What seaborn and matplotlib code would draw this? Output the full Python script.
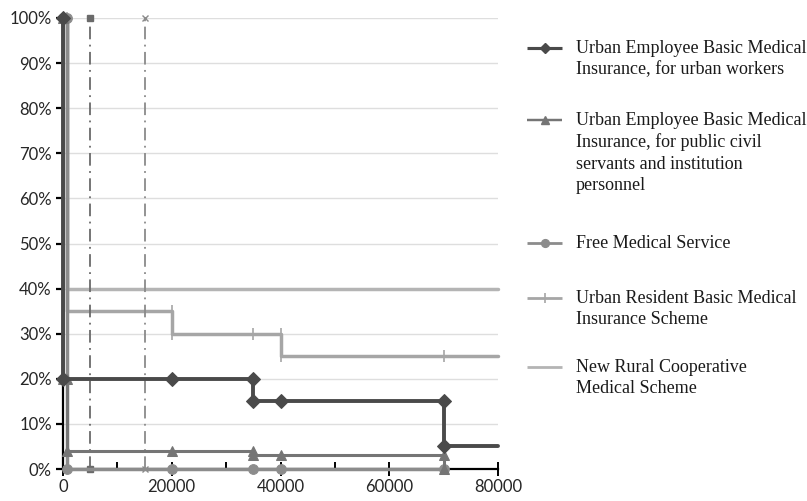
import numpy as np
import pandas as pd
import matplotlib.pyplot as plt
import seaborn as sns
from matplotlib.lines import Line2D
from matplotlib.ticker import MultipleLocator, FuncFormatter

# step points of each scheme (x in yuan, y in % reimbursed)
workers_x = [0, 0, 20000, 35000, 35000, 40000, 70000, 70000, 80000]
workers_y = [100, 20, 20, 20, 15, 15, 15, 5, 5]

civil_x = [0, 0, 800, 800, 20000, 35000, 35000, 40000, 70000, 70000]
civil_y = [100, 20, 20, 4, 4, 4, 3, 3, 3, 0]

free_x = [0, 800, 800, 20000, 35000, 40000, 70000]
free_y = [100, 100, 0, 0, 0, 0, 0]

resident_x = [0, 800, 800, 20000, 20000, 35000, 40000, 40000, 70000, 80000]
resident_y = [100, 100, 35, 35, 30, 30, 30, 25, 25, 25]

rural_x = [0, 800, 800, 80000]
rural_y = [100, 100, 40, 40]

# two threshold markers drawn as dashed verticals
thresh1_x = [5000, 5000]
thresh1_y = [0, 100]
thresh2_x = [15000, 15000]
thresh2_y = [0, 100]

labels = [
    "Urban Employee Basic Medical\nInsurance, for urban workers",
    "Urban Employee Basic Medical\nInsurance, for public civil\nservants and institution\npersonnel",
    "Free Medical Service",
    "Urban Resident Basic Medical\nInsurance Scheme",
    "New Rural Cooperative\nMedical Scheme",
]


def main():
    sns.set_style("white")
    plt.rcParams['font.family'] = ['Lato', 'DejaVu Sans']

    fig = plt.figure(figsize=(8.07, 5.01), dpi=100)
    ax = fig.add_axes([63/807, 32/501, 435/807, 451/501])

    common = dict(ax=ax, sort=False, estimator=None, clip_on=False, legend=False)

    styles = [
        dict(color='#4a4a4a', lw=2.8, marker='D', ms=7, mec='#4a4a4a'),
        dict(color='#757575', lw=2.2, marker='^', ms=7, mec='#757575'),
        dict(color='#8c8c8c', lw=2.5, marker='o', ms=7, mec='#8c8c8c'),
        dict(color='#a6a6a6', lw=2.5, marker='|', ms=9, mew=1.2, mec='#a6a6a6'),
        dict(color='#b4b4b4', lw=2.5),
    ]

    sns.lineplot(x=rural_x, y=rural_y, zorder=2, **styles[4], **common)
    sns.lineplot(x=resident_x, y=resident_y, markevery=list(range(len(resident_x) - 1)),
                 zorder=3, **styles[3], **common)
    sns.lineplot(x=free_x, y=free_y, zorder=4, **styles[2], **common)
    sns.lineplot(x=civil_x, y=civil_y, zorder=5, **styles[1], **common)
    sns.lineplot(x=workers_x, y=workers_y, markevery=list(range(len(workers_x) - 1)),
                 zorder=6, **styles[0], **common)

    ax.plot(thresh1_x, thresh1_y, color='#6a6a6a', lw=1.3, ls=(0, (7, 3, 1, 3)), marker='s', ms=4,
            clip_on=False, zorder=3)
    ax.plot(thresh2_x, thresh2_y, color='#8a8a8a', lw=1.3, ls=(0, (7, 3, 1, 3)), marker='x', ms=5,
            clip_on=False, zorder=3)

    ax.set_xlim(0, 80000)
    ax.set_ylim(0, 100)
    ax.xaxis.set_major_locator(MultipleLocator(20000))
    ax.xaxis.set_minor_locator(MultipleLocator(10000))
    ax.yaxis.set_major_locator(MultipleLocator(10))
    ax.yaxis.set_major_formatter(FuncFormatter(lambda v, p: f"{v:.0f}%"))
    ax.grid(True, axis='y', color='#dedede', lw=1)
    ax.set_axisbelow(True)

    for s in ['top', 'right']:
        ax.spines[s].set_visible(False)
    for s in ['left', 'bottom']:
        ax.spines[s].set_color('black')
        ax.spines[s].set_linewidth(1.6)
    ax.tick_params(axis='y', which='major', direction='out', length=5, width=1.6, color='black',
                   left=True, labelsize=12, pad=3)
    ax.tick_params(axis='x', which='major', direction='inout', length=10, width=1.4, color='black',
                   bottom=True, labelsize=12, pad=2)
    ax.tick_params(axis='x', which='minor', direction='in', length=5, width=1.4, color='black', bottom=True)
    ax.set_xlabel('')
    ax.set_ylabel('')

    # Excel-style legend: handle aligned with the first line of each label
    first_line_px = [48, 120, 243, 298, 367]
    W, H = 807, 501
    for lab, st, ypx in zip(labels, styles, first_line_px):
        yf = 1 - ypx / H
        fig.add_artist(Line2D([527 / W, 562 / W], [yf, yf], transform=fig.transFigure,
                              color=st['color'], lw=st['lw'] * 0.8, solid_capstyle='butt'))
        if 'marker' in st:
            fig.add_artist(Line2D([544.5 / W], [yf], transform=fig.transFigure, color=st['color'],
                                  marker=st['marker'], ms=st['ms'] * 0.8, mec=st['mec'],
                                  mew=st.get('mew', 1.0), lw=0))
        fig.text(576 / W, 1 - (ypx - 8) / H, lab, ha='left', va='top',
                 family='Liberation Serif', size=13, linespacing=1.33, color='#1a1a1a')

    plt.savefig("out.png", dpi=100)
    plt.close()


if __name__ == "__main__":
    main()
